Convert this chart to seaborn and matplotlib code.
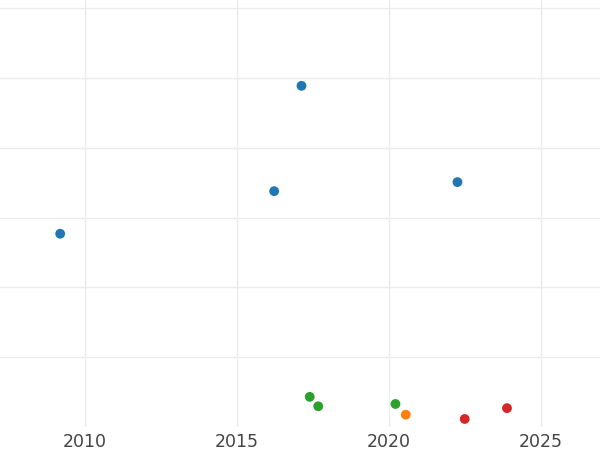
import matplotlib
matplotlib.use("Agg")
import matplotlib.pyplot as plt
import seaborn as sns
import pandas as pd

years = [2009.18, 2016.22, 2017.12, 2022.25,
         2020.55,
         2017.39, 2017.67, 2020.21,
         2022.49, 2023.88]
values = [27.7, 33.8, 48.9, 35.1,
          1.76,
          4.32, 2.97, 3.30,
          1.15, 2.70]
groups = ["A", "A", "A", "A",
          "B",
          "C", "C", "C",
          "D", "D"]
group_order = ["A", "B", "C", "D"]
palette = ["#1f77b4", "#ff7f0e", "#2ca02c", "#d62728"]
x_ticks = [2010, 2015, 2020, 2025]
y_ticks = [10, 20, 30, 40, 50, 60]

df = pd.DataFrame({"year": years, "value": values, "group": groups})

sns.set_theme(style="white")
fig = plt.figure(figsize=(6, 4.5), dpi=100)
ax = fig.add_axes([0, 23 / 450, 1, 427 / 450])

sns.scatterplot(data=df, x="year", y="value", hue="group", hue_order=group_order,
                palette=palette, s=50, edgecolor="none", legend=False, ax=ax, zorder=3)

ax.set_xlim(2007.2, 2026.94)
ax.set_ylim(0, 61.2)
ax.set_xticks(x_ticks)
ax.set_xticklabels([str(t) for t in x_ticks])
ax.set_yticks(y_ticks)
ax.set_yticklabels([])
ax.grid(True, color="#ebebeb", linewidth=1)
ax.set_axisbelow(True)
for s in ax.spines.values():
    s.set_visible(False)
ax.tick_params(axis="x", length=0, pad=4.5, labelsize=12.5, labelcolor="#444444")
ax.tick_params(axis="y", length=0)
ax.set_xlabel("")
ax.set_ylabel("")

fig.savefig("out.png", dpi=100)
